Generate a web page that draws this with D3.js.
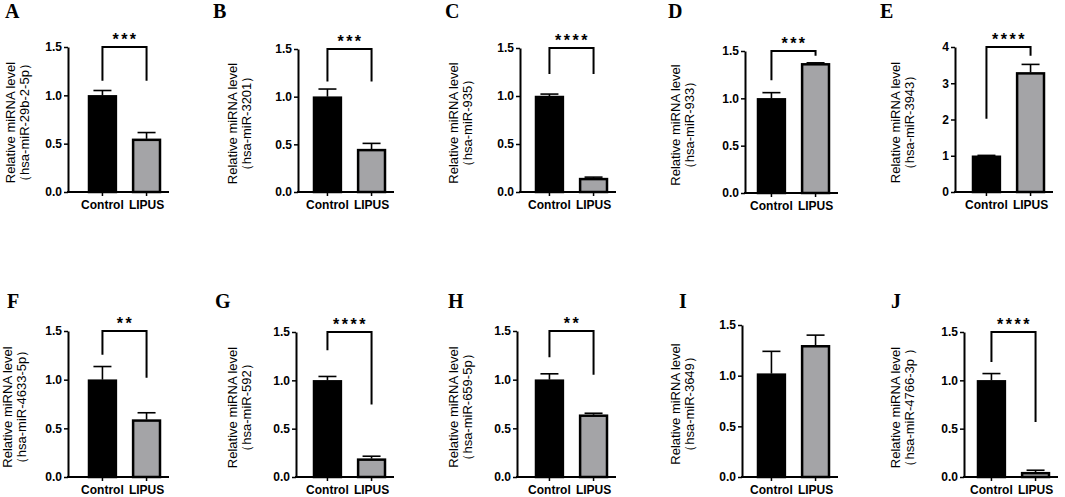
<!DOCTYPE html>
<html>
<head>
<meta charset="utf-8">
<script src="https://cdn.jsdelivr.net/npm/d3@7"></script>
<style>
  body{margin:0;background:#fff}
  text{font-family:"Liberation Sans",Arial,sans-serif}
</style>
</head>
<body>
<svg id="chart" width="1065" height="497"></svg>
<script>
// values
const panelLetters = ['A','B','C','D','E','F','G','H','I','J']
const mirnas = ['hsa-miR-29b-2-5p','hsa-miR-3201','hsa-miR-935','hsa-miR-933','hsa-miR-3943',
  'hsa-miR-4633-5p','hsa-miR-592','hsa-miR-659-5p','hsa-miR-3649','hsa-miR-4766-3p ']
const groups = ['Control','LIPUS']
const controlMean = [1.0,1.0,1.0,1.0,1.0,1.0,1.0,1.0,1.02,1.0]
const controlErr  = [0.05,0.08,0.02,0.06,0.01,0.135,0.04,0.06,0.22,0.07]
const lipusMean   = [0.55,0.45,0.145,1.37,3.3,0.59,0.19,0.64,1.30,0.05]
const lipusErr    = [0.065,0.06,0.01,0.005,0.22,0.07,0.025,0.015,0.10,0.02]
const yMax = [1.5,1.5,1.5,1.5,4,1.5,1.5,1.5,1.5,1.5]
const yTicksDefault = [0,0.5,1.0,1.5]
const yTicksE = [0,1,2,3,4]
const stars = ['***','***','****','***','****','**','****','**','','****']
const bracketLeft  = [1.15,1.16,1.23,1.19,2.02,1.255,1.31,1.23,null,1.19]
const bracketRight = [1.15,1.16,1.23,1.45,3.76,1.02,0.75,1.05,null,0.57]

// where each panel sits
const layout = [
  {x:68,  top:47,  bottom:192, bar:20, lab:-58, px:5,   py:18},
  {x:298, top:49,  bottom:192, bar:15, lab:-66, px:213, py:18},
  {x:520, top:48,  bottom:192, bar:15, lab:-67, px:445, py:18},
  {x:745, top:51,  bottom:193, bar:12, lab:-70, px:668, py:18},
  {x:955, top:47,  bottom:192, bar:17, lab:-60, px:880, py:18},
  {x:68,  top:331, bottom:477, bar:20, lab:-61, px:7,   py:308},
  {x:296, top:332, bottom:477, bar:17, lab:-64, px:215, py:308},
  {x:517, top:331, bottom:477, bar:18, lab:-64, px:448, py:308},
  {x:742, top:325, bottom:477, bar:15, lab:-67, px:679, py:308},
  {x:964, top:332, bottom:477, bar:13, lab:-69, px:891, py:308}
]

const svg = d3.select('#chart')
const grey = '#a4a4a7'

panelLetters.forEach((letter,i)=>{
  const L = layout[i]
  svg.append('text')
    .attr('x', L.px).attr('y', L.py)
    .style('font-family','"Liberation Serif","Times New Roman",serif')
    .attr('font-weight','bold').attr('font-size',20)
    .text(letter)

  const g = svg.append('g').attr('transform','translate(' + L.x + ',0)')
  const y = d3.scaleLinear().domain([0,yMax[i]]).range([L.bottom,L.top])
  const x = d3.scaleBand().domain(groups).range([L.bar,L.bar+73]).paddingInner(0.345)
  const bw = x.bandwidth()
  const means = [controlMean[i],lipusMean[i]]
  const errs = [controlErr[i],lipusErr[i]]
  const rows = groups.map((k,j)=>({k:k,m:means[j],e:errs[j]}))

  // bars
  g.selectAll('rect.bar').data(rows).enter().append('rect')
    .attr('class','bar')
    .attr('x',d=>x(d.k)+1).attr('width',bw-2)
    .attr('y',d=>y(d.m)+1).attr('height',d=>L.bottom-y(d.m)-1)
    .attr('fill',(d,j)=>j===0?'#000':grey)
    .attr('stroke','#000').attr('stroke-width',2.5)

  // error bars (upper only)
  const eb = g.selectAll('g.err').data(rows).enter().append('g').attr('class','err')
  eb.append('line')
    .attr('x1',d=>x(d.k)+bw/2).attr('x2',d=>x(d.k)+bw/2)
    .attr('y1',d=>y(d.m)).attr('y2',d=>y(d.m+d.e))
    .attr('stroke','#000').attr('stroke-width',1.6)
  eb.append('line')
    .attr('x1',d=>x(d.k)+bw/2-9).attr('x2',d=>x(d.k)+bw/2+9)
    .attr('y1',d=>y(d.m+d.e)).attr('y2',d=>y(d.m+d.e))
    .attr('stroke','#000').attr('stroke-width',1.6)

  // y axis
  const yAxis = d3.axisLeft(y)
    .tickValues(i===4?yTicksE:yTicksDefault)
    .tickFormat(i===4?d3.format('d'):d3.format('.1f'))
    .tickSizeInner(4).tickSizeOuter(0).tickPadding(2)
  const ya = g.append('g').call(yAxis)
  ya.select('.domain').attr('stroke-width',2)
  ya.selectAll('.tick line').attr('stroke-width',1.5)
  ya.selectAll('.tick text').attr('font-size',12).attr('font-weight','bold').attr('fill','#000')
    .style('font-family','"Liberation Sans",Arial,sans-serif')

  // x axis
  const xa = g.append('g').attr('transform','translate(0,' + L.bottom + ')')
    .call(d3.axisBottom(x).tickSizeInner(4).tickSizeOuter(0).tickPadding(4))
  xa.select('.domain').remove()
  xa.append('line').attr('x1',-1).attr('x2',L.bar+81).attr('stroke','#000').attr('stroke-width',2)
  xa.selectAll('.tick line').attr('stroke-width',1.5)
  xa.selectAll('.tick text').attr('font-size',12).attr('font-weight','bold').attr('fill','#000')
    .style('font-family','"Liberation Sans",Arial,sans-serif')

  // significance bracket
  if (stars[i]) {
    const xl = x(groups[0])+bw/2, xr = x(groups[1])+bw/2
    g.append('path')
      .attr('d','M'+xl+','+y(bracketLeft[i])+'V'+y(yMax[i])+'H'+xr+'V'+y(bracketRight[i]))
      .attr('fill','none').attr('stroke','#000').attr('stroke-width',2)
    g.append('text')
      .attr('x',(xl+xr)/2+1).attr('y',y(yMax[i])-2)
      .attr('text-anchor','middle').attr('font-size',16).attr('font-weight','bold')
      .attr('letter-spacing',2.5)
      .text(stars[i])
  }

  // y label
  const mid = (L.top+L.bottom)/2+3
  const lg = g.append('g').attr('transform','translate(' + L.lab + ',' + mid + ') rotate(-90)')
  lg.append('text').attr('text-anchor','middle').attr('dominant-baseline','central')
    .attr('font-size',13).text('Relative miRNA level')
  lg.append('text').attr('y',14).attr('text-anchor','middle').attr('dominant-baseline','central')
    .attr('font-size',13).text('（' + mirnas[i] + '）')
})
</script>
</body>
</html>
